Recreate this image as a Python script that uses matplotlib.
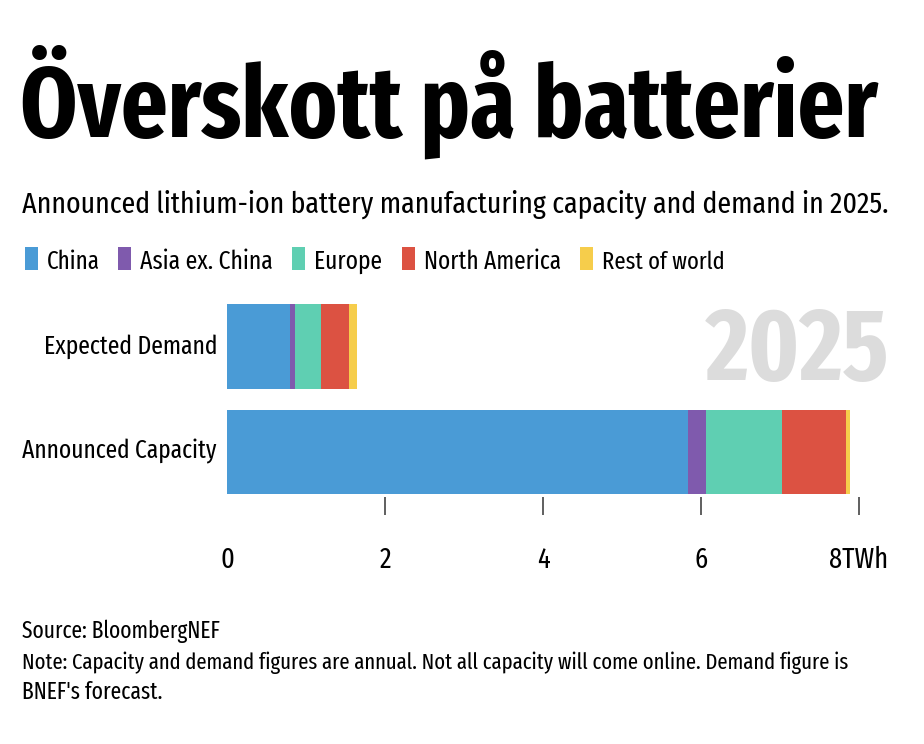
import matplotlib
matplotlib.use("Agg")
import matplotlib.pyplot as plt
from matplotlib import font_manager as fm
from matplotlib.font_manager import FontProperties
from matplotlib.patches import Rectangle

# data (TWh, 2025)
categories = ["Announced Capacity", "Expected Demand"]
regions = ["China", "Asia ex. China", "Europe", "North America", "Rest of world"]
china = [5.83, 0.80]
asia_ex_china = [0.23, 0.06]
europe = [0.97, 0.33]
north_america = [0.81, 0.36]
rest_of_world = [0.04, 0.09]
colors = ["#4a9bd6", "#7f5aad", "#5fcfb2", "#dc5242", "#f6cd4b"]
xticks = [0, 2, 4, 6, 8]
xtick_labels = ["0", "2", "4", "6", "8TWh"]


# pick the narrowest installed face, plain sans as a fallback
def narrowness(f):
    n = f.name.replace(" ", "").lower()
    s = str(f.stretch)
    if "extracondensed" in n or s == "extra-condensed":
        return 3
    if "semicondensed" in n or s == "semi-condensed":
        return 1
    if "condensed" in n or "narrow" in n or s == "condensed":
        return 2
    return 0


def find_font(bold):
    best, score = None, 0
    for f in fm.fontManager.ttflist:
        w = f.weight if isinstance(f.weight, int) else (700 if "bold" in str(f.weight) else 400)
        if f.style != "normal" or (w >= 700) != bold or (bold and w > 800):
            continue
        if not bold and w != 400:
            continue
        sc = narrowness(f)
        if sc > score:
            best, score = f, sc
    if best is None:
        return FontProperties(family=["Liberation Sans", "DejaVu Sans"],
                              weight="bold" if bold else "normal")
    return FontProperties(fname=best.fname)


REG = find_font(False)
BOLD = find_font(True)

W, H = 924, 744
fig = plt.figure(figsize=(W / 100, H / 100), dpi=100)
renderer = fig.canvas.get_renderer()


def px(x, y):
    return x / W, 1 - y / H


def fit(t, width_px):
    w = t.get_window_extent(renderer).width
    t.set_fontsize(t.get_fontsize() * width_px / w)
    return t


def ftext(x, y, s, width_px, fp=REG, **kw):
    kw.setdefault("va", "baseline")
    kw.setdefault("ha", "left")
    t = fig.text(*px(x, y), s, fontproperties=fp.copy(), fontsize=20, **kw)
    return fit(t, width_px)


ftext(20, 137, "Överskott på batterier", 860, BOLD)
ftext(22, 213, "Announced lithium-ion battery manufacturing capacity and demand in 2025.", 866)

# legend
leg_x = [25, 118, 292, 402, 580]
leg_w = [53, 133, 68, 137, 123]
for x, lw, name, c in zip(leg_x, leg_w, regions, colors):
    fig.patches.append(Rectangle(px(x, 270), 13 / W, 23 / H, transform=fig.transFigure,
                                 color=c, lw=0))
    ftext(x + 22, 269, name, lw)

ax = fig.add_axes([227 / W, 1 - 497 / H, (859 - 227) / W, 195.5 / H])
y = [0, 1]
left = [0, 0]
for vals, name, c in zip([china, asia_ex_china, europe, north_america, rest_of_world],
                         regions, colors):
    ax.barh(y, vals, left=left, height=0.8, color=c, label=name)
    left = [l + v for l, v in zip(left, vals)]

ax.set_xlim(0, 8)
ax.set_ylim(-0.427, 1.427)
ax.set_xticks(xticks)
ax.set_yticks([])

probe = fig.text(0, 0, "8TWh", fontproperties=REG.copy(), fontsize=20)
tick_fs = fit(probe, 59).get_fontsize()
probe.remove()
ax.set_xticklabels(xtick_labels, fontproperties=REG.copy(), fontsize=tick_fs)
ax.tick_params(axis="x", direction="out", length=13, width=1.2, color="#444444", pad=22)
ax.xaxis.get_major_ticks()[0].tick1line.set_visible(False)
for s in ax.spines.values():
    s.set_visible(False)

cat_w = [195, 174]
for yi, name, cw in zip(y, categories, cat_w):
    t = ax.text(-10 / 632, yi, name, transform=ax.get_yaxis_transform(),
                ha="right", va="center", fontproperties=REG.copy(), fontsize=20)
    fit(t, cw)

ftext(706, 380, "2025", 184, BOLD, color="#dcdcdc")

ftext(22, 638, "Source: BloombergNEF", 199)
ftext(22, 669, "Note: Capacity and demand figures are annual. Not all capacity will come online. Demand figure is", 830)
ftext(22, 699, "BNEF's forecast.", 141)

fig.savefig("out.png", dpi=100, facecolor="white")
